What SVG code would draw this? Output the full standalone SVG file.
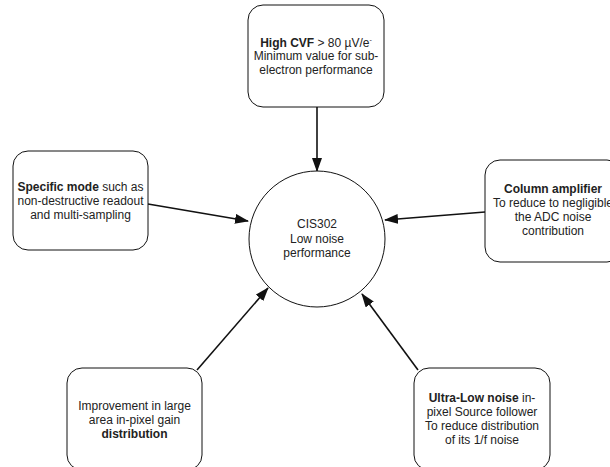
<svg xmlns="http://www.w3.org/2000/svg" width="610" height="467" viewBox="0 0 610 467">
<style>
.box{fill:#fff;stroke:#111;stroke-width:1}
.t{font-family:"Liberation Sans",Arial,sans-serif;font-size:12px;fill:#222;text-anchor:middle}
.b{font-weight:bold}
.c{stroke:#111;stroke-width:1.6;fill:none}
</style>
<defs>
<marker id="ah" markerWidth="14" markerHeight="10" refX="13" refY="5" orient="auto" markerUnits="userSpaceOnUse">
<path d="M0,0 L14,5 L0,10 Z" fill="#111"/>
</marker>
</defs>
<rect width="610" height="467" fill="#fff"/>
<g id="connectors">
<line class="c" x1="317" y1="107" x2="317" y2="171" marker-end="url(#ah)"/>
<line class="c" x1="148" y1="204" x2="248" y2="221" marker-end="url(#ah)"/>
<line class="c" x1="485" y1="212" x2="385" y2="220" marker-end="url(#ah)"/>
<line class="c" x1="197" y1="370" x2="268" y2="288" marker-end="url(#ah)"/>
<line class="c" x1="418" y1="370" x2="362" y2="294" marker-end="url(#ah)"/>
</g>
<g id="center">
<circle cx="317" cy="239" r="68" fill="#fff" stroke="#111" stroke-width="1"/>
<text class="t" x="317" y="228" fill="#333">CIS302</text>
<text class="t" x="317" y="243">Low noise</text>
<text class="t" x="317" y="257">performance</text>
</g>
<g id="top">
<rect class="box" x="248" y="5" width="136" height="102" rx="15"/>
<text class="t" x="316" y="47"><tspan class="b">High CVF</tspan> &gt; 80 µV/e<tspan font-size="7" dy="-5">-</tspan></text>
<text class="t" x="316" y="60">Minimum value for sub-</text>
<text class="t" x="316" y="74">electron performance</text>
</g>
<g id="left">
<rect class="box" x="13" y="151" width="135" height="99" rx="15"/>
<text class="t" x="80.5" y="191"><tspan class="b">Specific mode</tspan> such as</text>
<text class="t" x="80.5" y="205">non-destructive readout</text>
<text class="t" x="80.5" y="219">and multi-sampling</text>
</g>
<g id="right">
<rect class="box" x="485" y="160" width="137" height="102" rx="15"/>
<text class="t" x="553" y="193"><tspan class="b">Column amplifier</tspan></text>
<text class="t" x="553" y="207">To reduce to negligible</text>
<text class="t" x="553" y="221">the ADC noise</text>
<text class="t" x="553" y="235">contribution</text>
</g>
<g id="bottomleft">
<rect class="box" x="67" y="368" width="135" height="102" rx="15"/>
<text class="t" x="134.5" y="410">Improvement in large</text>
<text class="t" x="134.5" y="424">area in-pixel gain</text>
<text class="t" x="134.5" y="438" font-weight="bold">distribution</text>
</g>
<g id="bottomright">
<rect class="box" x="414" y="368" width="136" height="102" rx="15"/>
<text class="t" x="482" y="402"><tspan class="b">Ultra-Low noise</tspan> in-</text>
<text class="t" x="482" y="416">pixel Source follower</text>
<text class="t" x="482" y="430">To reduce distribution</text>
<text class="t" x="482" y="444">of its 1/f noise</text>
</g>
</svg>
